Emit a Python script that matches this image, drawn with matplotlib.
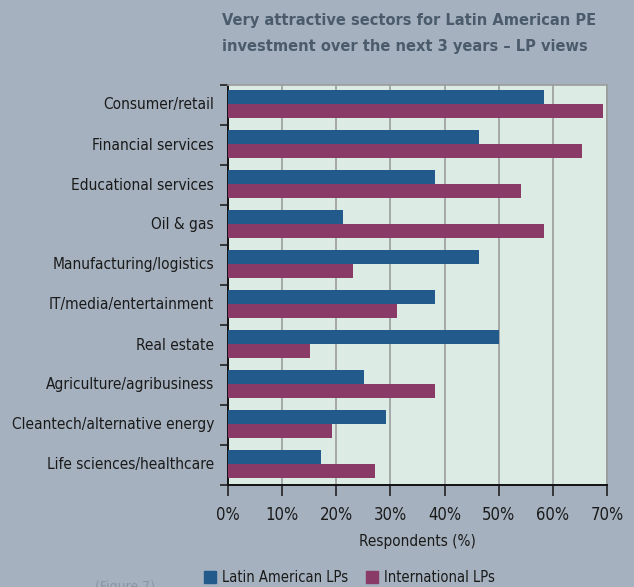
import matplotlib
matplotlib.use("Agg")
import matplotlib.pyplot as plt
import numpy as np

sectors = [
    "Consumer/retail",
    "Financial services",
    "Educational services",
    "Oil & gas",
    "Manufacturing/logistics",
    "IT/media/entertainment",
    "Real estate",
    "Agriculture/agribusiness",
    "Cleantech/alternative energy",
    "Life sciences/healthcare",
]
latam_lps = [58.3, 46.3, 38.3, 21.3, 46.3, 38.3, 50.0, 25.2, 29.2, 17.2]
intl_lps = [69.2, 65.4, 54.2, 58.3, 23.1, 31.3, 15.2, 38.3, 19.2, 27.2]
x_ticks = [0, 10, 20, 30, 40, 50, 60, 70]
series_names = ["Latin American LPs", "International LPs"]

plt.rcParams["font.family"] = ["DejaVu Sans"]
plt.rcParams["font.stretch"] = "condensed"

BG = "#A5B1BE"
PLOT_BG = "#DDEBE5"
BLUE = "#235A8C"
PURPLE = "#8A3A66"
TITLE = "#4B5B6B"

W, H = 634, 587
fig = plt.figure(figsize=(W / 100, H / 100), dpi=100, facecolor=BG)
ax = fig.add_axes([228 / W, 102 / H, 379 / W, 400 / H], facecolor=PLOT_BG)

n = len(sectors)
centers = np.arange(n)
bh = 0.35
ax.barh(centers - bh / 2 - 0.03, latam_lps, height=bh, color=BLUE, zorder=3)
ax.barh(centers + bh / 2 - 0.03, intl_lps, height=bh, color=PURPLE, zorder=3)

ax.set_ylim(n - 0.5, -0.5)
ax.set_xlim(0, 70)

# category labels centred between boundary ticks
ax.set_yticks(np.arange(n + 1) - 0.5)
ax.set_yticklabels([])
ax.tick_params(axis="y", direction="out", length=6, width=1.2, color="#222222")
for i, s in enumerate(sectors):
    ax.text(-0.037, i, s, transform=ax.get_yaxis_transform(), ha="right",
            va="center", fontsize=11.1, color="#1a1a1a", fontstretch="condensed")

ax.set_xticks(x_ticks)
ax.set_xticklabels([f"{t}%" for t in x_ticks], fontsize=12, color="#1a1a1a",
                   fontstretch="condensed")
ax.tick_params(axis="x", direction="out", length=8, width=1.2, color="#222222", pad=7)
ax.xaxis.grid(True, color="#9A9E9E", linewidth=1.2, zorder=0)
ax.set_xlabel("Respondents (%)", fontsize=11, color="#1a1a1a", labelpad=7,
              fontstretch="condensed")

for side in ("left", "bottom"):
    ax.spines[side].set_color("#111111")
    ax.spines[side].set_linewidth(1.4)
ax.spines["top"].set_color("#9A9E9E")
ax.spines["right"].set_color("#9A9E9E")
ax.spines["top"].set_linewidth(1.2)
ax.spines["right"].set_linewidth(1.2)

fig.text(222 / W, 1 - 21 / H, "Very attractive sectors for Latin American PE",
         fontsize=11.7, fontweight="bold", color=TITLE, ha="left", va="center",
         fontstretch="condensed")
fig.text(222 / W, 1 - 46 / H, "investment over the next 3 years \u2013 LP views",
         fontsize=11.7, fontweight="bold", color=TITLE, ha="left", va="center",
         fontstretch="condensed")

# legend row
for (xs, name, col) in [(204, series_names[0], BLUE), (366, series_names[1], PURPLE)]:
    fig.patches.append(plt.Rectangle((xs / W, 1 - 583 / H), 12 / W, 12 / H,
                                     transform=fig.transFigure, color=col))
    fig.text((xs + 18) / W, 1 - 577 / H, name, fontsize=10.5, color="#1a1a1a",
             ha="left", va="center", fontstretch="condensed")

fig.text(95 / W, 1 - 580 / H, "(Figure 7)", fontsize=10, color="#8A96A3",
         ha="left", va="top", fontstretch="condensed")

fig.savefig("out.png", dpi=100, facecolor=BG)
